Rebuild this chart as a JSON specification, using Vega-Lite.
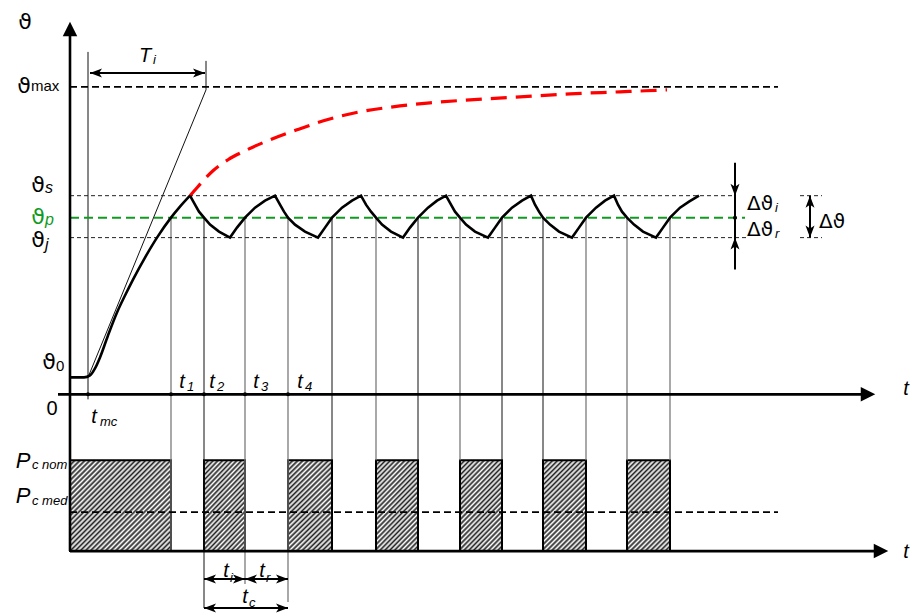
{
  "$schema": "https://vega.github.io/schema/vega-lite/v6.json",
  "width": 910,
  "height": 613,
  "autosize": {"type": "fit", "contains": "padding"},
  "padding": 0,
  "background": "white",
  "config": {"view": {"stroke": null}},
  "datasets": {
    "wideBar": [{"t": 0, "t2": 101, "v": -66, "v2": -157}],
    "bars": [
      {"t": 134, "t2": 175, "v": -66, "v2": -157},
      {"t": 218, "t2": 262, "v": -66, "v2": -157},
      {"t": 306, "t2": 348, "v": -66, "v2": -157},
      {"t": 390, "t2": 432, "v": -66, "v2": -157},
      {"t": 473, "t2": 516, "v": -66, "v2": -157},
      {"t": 557, "t2": 600, "v": -66, "v2": -157}
    ],
    "grayLines": [
      {"t": 101, "v": 177, "t2": 101, "v2": -157},
      {"t": 175, "v": 177, "t2": 175, "v2": -190},
      {"t": 218, "v": 177, "t2": 218, "v2": -208},
      {"t": 306, "v": 177, "t2": 306, "v2": -66},
      {"t": 390, "v": 177, "t2": 390, "v2": -66},
      {"t": 516, "v": 177, "t2": 516, "v2": -66},
      {"t": 557, "v": 177, "t2": 557, "v2": -66},
      {"t": 600, "v": 177, "t2": 600, "v2": -66}
    ],
    "blackLines": [
      {"t": 134, "v": 177, "t2": 134, "v2": -214},
      {"t": 262, "v": 177, "t2": 262, "v2": -66},
      {"t": 348, "v": 177, "t2": 348, "v2": -66},
      {"t": 432, "v": 177, "t2": 432, "v2": -66},
      {"t": 473, "v": 177, "t2": 473, "v2": -66},
      {"t": 18, "v": 343, "t2": 18, "v2": -5},
      {"t": 136, "v": 334, "t2": 136, "v2": 305},
      {"t": 18, "v": 17, "t2": 136, "v2": 305}
    ],
    "levelsMain": [
      {"t": 0, "v": 308, "t2": 708, "v2": 308},
      {"t": 0, "v": -118, "t2": 708, "v2": -118}
    ],
    "levelsThin": [
      {"t": 0, "v": 199, "t2": 663, "v2": 199},
      {"t": 0, "v": 157, "t2": 677, "v2": 157},
      {"t": 730, "v": 199, "t2": 752, "v2": 199},
      {"t": 730, "v": 157, "t2": 752, "v2": 157}
    ],
    "levelGreen": [{"t": 0, "v": 177, "t2": 675, "v2": 177}],
    "red": [
      {"t": 120, "v": 199}, {"t": 127, "v": 207}, {"t": 143, "v": 224}, {"t": 158, "v": 235},
      {"t": 173, "v": 243}, {"t": 200, "v": 255}, {"t": 227, "v": 265}, {"t": 257, "v": 275},
      {"t": 290, "v": 283}, {"t": 323, "v": 288}, {"t": 360, "v": 292}, {"t": 400, "v": 295},
      {"t": 450, "v": 298}, {"t": 500, "v": 301}, {"t": 550, "v": 303}, {"t": 597, "v": 305}
    ],
    "heat": [
      {"t": 0, "v": 17}, {"t": 14, "v": 17}, {"t": 20, "v": 19}, {"t": 25, "v": 26}, {"t": 30, "v": 37},
      {"t": 38, "v": 59}, {"t": 47, "v": 82}, {"t": 55, "v": 99}, {"t": 63, "v": 115}, {"t": 75, "v": 137},
      {"t": 87, "v": 157}, {"t": 101, "v": 177}, {"t": 110, "v": 188}, {"t": 120, "v": 199}
    ],
    "cycles": [
      {"t": 120, "v": 199},
      {"t": 125, "v": 190}, {"t": 129, "v": 183}, {"t": 134, "v": 177}, {"t": 140, "v": 170}, {"t": 149, "v": 163},
      {"t": 160, "v": 157}, {"t": 167, "v": 167}, {"t": 175, "v": 177}, {"t": 185, "v": 187}, {"t": 195, "v": 194}, {"t": 205, "v": 199},
      {"t": 210, "v": 190}, {"t": 214, "v": 183}, {"t": 218, "v": 177}, {"t": 225, "v": 170}, {"t": 235, "v": 163},
      {"t": 248, "v": 157}, {"t": 255, "v": 167}, {"t": 262, "v": 177}, {"t": 272, "v": 187}, {"t": 282, "v": 194}, {"t": 291, "v": 199},
      {"t": 296, "v": 190}, {"t": 301, "v": 183}, {"t": 306, "v": 177}, {"t": 312, "v": 170}, {"t": 321, "v": 163},
      {"t": 333, "v": 157}, {"t": 340, "v": 167}, {"t": 348, "v": 177}, {"t": 358, "v": 187}, {"t": 367, "v": 194}, {"t": 376, "v": 199},
      {"t": 381, "v": 190}, {"t": 385, "v": 183}, {"t": 390, "v": 177}, {"t": 396, "v": 170}, {"t": 405, "v": 163},
      {"t": 418, "v": 157}, {"t": 425, "v": 167}, {"t": 432, "v": 177}, {"t": 442, "v": 187}, {"t": 452, "v": 194}, {"t": 461, "v": 199},
      {"t": 465, "v": 190}, {"t": 469, "v": 183}, {"t": 473, "v": 177}, {"t": 480, "v": 170}, {"t": 489, "v": 163},
      {"t": 502, "v": 157}, {"t": 509, "v": 167}, {"t": 516, "v": 177}, {"t": 526, "v": 187}, {"t": 535, "v": 194}, {"t": 544, "v": 199},
      {"t": 548, "v": 190}, {"t": 552, "v": 183}, {"t": 557, "v": 177}, {"t": 564, "v": 170}, {"t": 573, "v": 163},
      {"t": 586, "v": 157}, {"t": 593, "v": 167}, {"t": 600, "v": 177}, {"t": 610, "v": 187}, {"t": 619, "v": 193}, {"t": 629, "v": 199}
    ],
    "axes": [
      {"t": 0, "v": 360, "t2": 0, "v2": -157},
      {"t": -12, "v": 0, "t2": 795, "v2": 0},
      {"t": 0, "v": -157, "t2": 808, "v2": -157}
    ],
    "dims": [
      {"t": 20, "v": 322, "t2": 135, "v2": 322},
      {"t": 665, "v": 232, "t2": 665, "v2": 125},
      {"t": 740, "v": 199, "t2": 740, "v2": 157},
      {"t": 134, "v": -185, "t2": 175, "v2": -185},
      {"t": 175, "v": -185, "t2": 218, "v2": -185},
      {"t": 134, "v": -214, "t2": 218, "v2": -214}
    ],
    "arrowsBig": [
      {"t": 0, "v": 366, "dir": "U"},
      {"t": 798, "v": 0, "dir": "R"},
      {"t": 811, "v": -157, "dir": "R"}
    ],
    "arrowsSmall": [
      {"t": 26, "v": 322, "dir": "l"}, {"t": 129, "v": 322, "dir": "r"},
      {"t": 665, "v": 205, "dir": "d"}, {"t": 665, "v": 151, "dir": "u"},
      {"t": 740, "v": 193, "dir": "u"}, {"t": 740, "v": 163, "dir": "d"},
      {"t": 140, "v": -185, "dir": "l"}, {"t": 169, "v": -185, "dir": "r"},
      {"t": 181, "v": -185, "dir": "l"}, {"t": 212, "v": -185, "dir": "r"},
      {"t": 140, "v": -214, "dir": "l"}, {"t": 212, "v": -214, "dir": "r"}
    ],
    "dots": [
      {"t": 18, "v": 0}, {"t": 101, "v": 0}, {"t": 134, "v": 0}, {"t": 175, "v": 0}, {"t": 218, "v": 0}, {"t": 665, "v": 177}
    ],
    "thetaLabels": [
      {"t": -45, "v": 373, "s": "ϑ"}, {"t": -46, "v": 309, "s": "ϑ"}, {"t": -32, "v": 210, "s": "ϑ"},
      {"t": -32, "v": 155, "s": "ϑ"}, {"t": -21, "v": 32, "s": "ϑ"}
    ],
    "thetaGreen": [{"t": -32, "v": 178, "s": "ϑ"}],
    "zeroLabel": [{"t": -18, "v": -15, "s": "0"}],
    "tLabels": [
      {"t": 836, "v": 5, "s": "t"}, {"t": 836, "v": -158, "s": "t"}, {"t": 75, "v": 339, "s": "T"},
      {"t": 24, "v": -23, "s": "t"}, {"t": 112, "v": 12, "s": "t"}, {"t": 142, "v": 12, "s": "t"},
      {"t": 186, "v": 12, "s": "t"}, {"t": 230, "v": 12, "s": "t"}, {"t": 156, "v": -177, "s": "t"},
      {"t": 192, "v": -177, "s": "t"}, {"t": 175, "v": -203, "s": "t"}
    ],
    "pLabels": [{"t": -47, "v": -67, "s": "P"}, {"t": -47, "v": -102, "s": "P"}],
    "deltaLabels": [
      {"t": 677, "v": 191, "s": "Δϑ"}, {"t": 677, "v": 165, "s": "Δϑ"}, {"t": 749, "v": 173, "s": "Δϑ"}
    ],
    "subsItalic": [
      {"t": 83, "v": 335, "s": "i"}, {"t": 30, "v": -28, "s": "mc"},
      {"t": 117, "v": 7, "s": "1"}, {"t": 147, "v": 7, "s": "2"}, {"t": 191, "v": 7, "s": "3"}, {"t": 235, "v": 7, "s": "4"},
      {"t": 160, "v": -184, "s": "i"}, {"t": 196, "v": -184, "s": "r"}, {"t": 179, "v": -209, "s": "c"},
      {"t": 705, "v": 187, "s": "i"}, {"t": 705, "v": 161, "s": "r"},
      {"t": -38, "v": -71, "s": "c nom"}, {"t": -38, "v": -107, "s": "c med"}
    ],
    "subsTheta": [{"t": -25, "v": 207, "s": "s"}, {"t": -25, "v": 150, "s": "j"}],
    "subsGreen": [{"t": -25, "v": 175, "s": "p"}],
    "subsUpright": [{"t": -39, "v": 309, "s": "max"}, {"t": -14, "v": 28, "s": "0"}]
  },
  "encoding": {
    "x": {"field": "t", "type": "quantitative", "scale": {"domain": [-70, 840], "nice": false, "zero": false}, "axis": null},
    "y": {"field": "v", "type": "quantitative", "scale": {"domain": [-218, 395], "nice": false, "zero": false}, "axis": null}
  },
  "layer": [
    {
      "data": {"name": "wideBar"},
      "mark": {"type": "rect", "stroke": "#000", "strokeWidth": 2,
        "fill": {"gradient": "linear", "x1": 0, "y1": 0, "x2": 1.049, "y2": 0.945, "stops": [
          {"offset": 0, "color": "#222"}, {"offset": 0.013, "color": "#fff"}, {"offset": 0.026, "color": "#222"}, {"offset": 0.039, "color": "#fff"},
          {"offset": 0.053, "color": "#222"}, {"offset": 0.066, "color": "#fff"}, {"offset": 0.079, "color": "#222"}, {"offset": 0.092, "color": "#fff"},
          {"offset": 0.105, "color": "#222"}, {"offset": 0.118, "color": "#fff"}, {"offset": 0.132, "color": "#222"}, {"offset": 0.145, "color": "#fff"},
          {"offset": 0.158, "color": "#222"}, {"offset": 0.171, "color": "#fff"}, {"offset": 0.184, "color": "#222"}, {"offset": 0.197, "color": "#fff"},
          {"offset": 0.211, "color": "#222"}, {"offset": 0.224, "color": "#fff"}, {"offset": 0.237, "color": "#222"}, {"offset": 0.25, "color": "#fff"},
          {"offset": 0.263, "color": "#222"}, {"offset": 0.276, "color": "#fff"}, {"offset": 0.289, "color": "#222"}, {"offset": 0.303, "color": "#fff"},
          {"offset": 0.316, "color": "#222"}, {"offset": 0.329, "color": "#fff"}, {"offset": 0.342, "color": "#222"}, {"offset": 0.355, "color": "#fff"},
          {"offset": 0.368, "color": "#222"}, {"offset": 0.382, "color": "#fff"}, {"offset": 0.395, "color": "#222"}, {"offset": 0.408, "color": "#fff"},
          {"offset": 0.421, "color": "#222"}, {"offset": 0.434, "color": "#fff"}, {"offset": 0.447, "color": "#222"}, {"offset": 0.461, "color": "#fff"},
          {"offset": 0.474, "color": "#222"}, {"offset": 0.487, "color": "#fff"}, {"offset": 0.5, "color": "#222"}, {"offset": 0.513, "color": "#fff"},
          {"offset": 0.526, "color": "#222"}, {"offset": 0.539, "color": "#fff"}, {"offset": 0.553, "color": "#222"}, {"offset": 0.566, "color": "#fff"},
          {"offset": 0.579, "color": "#222"}, {"offset": 0.592, "color": "#fff"}, {"offset": 0.605, "color": "#222"}, {"offset": 0.618, "color": "#fff"},
          {"offset": 0.632, "color": "#222"}, {"offset": 0.645, "color": "#fff"}, {"offset": 0.658, "color": "#222"}, {"offset": 0.671, "color": "#fff"},
          {"offset": 0.684, "color": "#222"}, {"offset": 0.697, "color": "#fff"}, {"offset": 0.711, "color": "#222"}, {"offset": 0.724, "color": "#fff"},
          {"offset": 0.737, "color": "#222"}, {"offset": 0.75, "color": "#fff"}, {"offset": 0.763, "color": "#222"}, {"offset": 0.776, "color": "#fff"},
          {"offset": 0.789, "color": "#222"}, {"offset": 0.803, "color": "#fff"}, {"offset": 0.816, "color": "#222"}, {"offset": 0.829, "color": "#fff"},
          {"offset": 0.842, "color": "#222"}, {"offset": 0.855, "color": "#fff"}, {"offset": 0.868, "color": "#222"}, {"offset": 0.882, "color": "#fff"},
          {"offset": 0.895, "color": "#222"}, {"offset": 0.908, "color": "#fff"}, {"offset": 0.921, "color": "#222"}, {"offset": 0.934, "color": "#fff"},
          {"offset": 0.947, "color": "#222"}, {"offset": 0.961, "color": "#fff"}, {"offset": 0.974, "color": "#222"}, {"offset": 0.987, "color": "#fff"},
          {"offset": 1, "color": "#222"}
        ]}},
      "encoding": {"x2": {"field": "t2"}, "y2": {"field": "v2"}}
    },
    {
      "data": {"name": "bars"},
      "mark": {"type": "rect", "stroke": "#000", "strokeWidth": 2,
        "fill": {"gradient": "linear", "x1": 0, "y1": 0, "x2": 0.569, "y2": 1.204, "stops": [
          {"offset": 0, "color": "#222"}, {"offset": 0.019, "color": "#fff"}, {"offset": 0.037, "color": "#222"}, {"offset": 0.056, "color": "#fff"},
          {"offset": 0.074, "color": "#222"}, {"offset": 0.093, "color": "#fff"}, {"offset": 0.111, "color": "#222"}, {"offset": 0.13, "color": "#fff"},
          {"offset": 0.148, "color": "#222"}, {"offset": 0.167, "color": "#fff"}, {"offset": 0.185, "color": "#222"}, {"offset": 0.204, "color": "#fff"},
          {"offset": 0.222, "color": "#222"}, {"offset": 0.241, "color": "#fff"}, {"offset": 0.259, "color": "#222"}, {"offset": 0.278, "color": "#fff"},
          {"offset": 0.296, "color": "#222"}, {"offset": 0.315, "color": "#fff"}, {"offset": 0.333, "color": "#222"}, {"offset": 0.352, "color": "#fff"},
          {"offset": 0.37, "color": "#222"}, {"offset": 0.389, "color": "#fff"}, {"offset": 0.407, "color": "#222"}, {"offset": 0.426, "color": "#fff"},
          {"offset": 0.444, "color": "#222"}, {"offset": 0.463, "color": "#fff"}, {"offset": 0.481, "color": "#222"}, {"offset": 0.5, "color": "#fff"},
          {"offset": 0.519, "color": "#222"}, {"offset": 0.537, "color": "#fff"}, {"offset": 0.556, "color": "#222"}, {"offset": 0.574, "color": "#fff"},
          {"offset": 0.593, "color": "#222"}, {"offset": 0.611, "color": "#fff"}, {"offset": 0.63, "color": "#222"}, {"offset": 0.648, "color": "#fff"},
          {"offset": 0.667, "color": "#222"}, {"offset": 0.685, "color": "#fff"}, {"offset": 0.704, "color": "#222"}, {"offset": 0.722, "color": "#fff"},
          {"offset": 0.741, "color": "#222"}, {"offset": 0.759, "color": "#fff"}, {"offset": 0.778, "color": "#222"}, {"offset": 0.796, "color": "#fff"},
          {"offset": 0.815, "color": "#222"}, {"offset": 0.833, "color": "#fff"}, {"offset": 0.852, "color": "#222"}, {"offset": 0.87, "color": "#fff"},
          {"offset": 0.889, "color": "#222"}, {"offset": 0.907, "color": "#fff"}, {"offset": 0.926, "color": "#222"}, {"offset": 0.944, "color": "#fff"},
          {"offset": 0.963, "color": "#222"}, {"offset": 0.981, "color": "#fff"}, {"offset": 1, "color": "#222"}
        ]}},
      "encoding": {"x2": {"field": "t2"}, "y2": {"field": "v2"}}
    },
    {
      "data": {"name": "grayLines"},
      "mark": {"type": "rule", "color": "#7a7a7a", "strokeWidth": 1.3},
      "encoding": {"x2": {"field": "t2"}, "y2": {"field": "v2"}}
    },
    {
      "data": {"name": "blackLines"},
      "mark": {"type": "rule", "color": "#111", "strokeWidth": 1},
      "encoding": {"x2": {"field": "t2"}, "y2": {"field": "v2"}}
    },
    {
      "data": {"name": "levelsMain"},
      "mark": {"type": "rule", "color": "#000", "strokeWidth": 1.6, "strokeDash": [7, 4]},
      "encoding": {"x2": {"field": "t2"}, "y2": {"field": "v2"}}
    },
    {
      "data": {"name": "levelsThin"},
      "mark": {"type": "rule", "color": "#222", "strokeWidth": 1, "strokeDash": [4, 3]},
      "encoding": {"x2": {"field": "t2"}, "y2": {"field": "v2"}}
    },
    {
      "data": {"name": "levelGreen"},
      "mark": {"type": "rule", "color": "#109a22", "strokeWidth": 2, "strokeDash": [9, 5]},
      "encoding": {"x2": {"field": "t2"}, "y2": {"field": "v2"}}
    },
    {
      "data": {"name": "red"},
      "mark": {"type": "line", "color": "#ff0000", "strokeWidth": 3.2, "strokeDash": [16, 9], "interpolate": "monotone"},
      "encoding": {}
    },
    {
      "data": {"name": "heat"},
      "mark": {"type": "line", "color": "#000", "strokeWidth": 2.6, "interpolate": "monotone"},
      "encoding": {}
    },
    {
      "data": {"name": "cycles"},
      "mark": {"type": "line", "color": "#000", "strokeWidth": 2.6, "strokeJoin": "miter"},
      "encoding": {}
    },
    {
      "data": {"name": "axes"},
      "mark": {"type": "rule", "color": "#000", "strokeWidth": 2.6},
      "encoding": {"x2": {"field": "t2"}, "y2": {"field": "v2"}}
    },
    {
      "data": {"name": "dims"},
      "mark": {"type": "rule", "color": "#000", "strokeWidth": 2},
      "encoding": {"x2": {"field": "t2"}, "y2": {"field": "v2"}}
    },
    {
      "data": {"name": "arrowsBig"},
      "mark": {"type": "point", "filled": true, "opacity": 1, "color": "#000", "size": 210, "strokeWidth": 0},
      "encoding": {
        "shape": {"field": "dir", "type": "nominal", "legend": null,
          "scale": {"domain": ["U", "R", "u", "d", "l", "r"],
            "range": ["M0,-1L-1,1L1,1Z", "M1,0L-1,-1L-1,1Z", "M0,-1L-0.75,1L0,0.5L0.75,1Z", "M0,1L-0.75,-1L0,-0.5L0.75,-1Z", "M-1,0L1,-0.75L0.5,0L1,0.75Z", "M1,0L-1,-0.75L-0.5,0L-1,0.75Z"]}}
      }
    },
    {
      "data": {"name": "arrowsSmall"},
      "mark": {"type": "point", "filled": true, "opacity": 1, "color": "#000", "size": 144, "strokeWidth": 0},
      "encoding": {
        "shape": {"field": "dir", "type": "nominal", "legend": null,
          "scale": {"domain": ["U", "R", "u", "d", "l", "r"],
            "range": ["M0,-1L-1,1L1,1Z", "M1,0L-1,-1L-1,1Z", "M0,-1L-0.75,1L0,0.5L0.75,1Z", "M0,1L-0.75,-1L0,-0.5L0.75,-1Z", "M-1,0L1,-0.75L0.5,0L1,0.75Z", "M1,0L-1,-0.75L-0.5,0L-1,0.75Z"]}}
      }
    },
    {
      "data": {"name": "dots"},
      "mark": {"type": "point", "shape": "circle", "filled": true, "opacity": 1, "color": "#000", "size": 16},
      "encoding": {}
    },
    {
      "data": {"name": "thetaLabels"},
      "mark": {"type": "text", "font": "DejaVu Sans", "fontSize": 22, "align": "center", "baseline": "middle", "color": "#000"},
      "encoding": {"text": {"field": "s"}}
    },
    {
      "data": {"name": "thetaGreen"},
      "mark": {"type": "text", "font": "DejaVu Sans", "fontSize": 22, "align": "center", "baseline": "middle", "color": "#109a22"},
      "encoding": {"text": {"field": "s"}}
    },
    {
      "data": {"name": "zeroLabel"},
      "mark": {"type": "text", "font": "Liberation Sans", "fontSize": 20, "align": "center", "baseline": "middle", "color": "#000"},
      "encoding": {"text": {"field": "s"}}
    },
    {
      "data": {"name": "tLabels"},
      "mark": {"type": "text", "font": "Liberation Sans", "fontStyle": "italic", "fontSize": 20, "align": "center", "baseline": "middle", "color": "#000"},
      "encoding": {"text": {"field": "s"}}
    },
    {
      "data": {"name": "pLabels"},
      "mark": {"type": "text", "font": "Liberation Sans", "fontStyle": "italic", "fontSize": 22, "align": "center", "baseline": "middle", "color": "#000"},
      "encoding": {"text": {"field": "s"}}
    },
    {
      "data": {"name": "deltaLabels"},
      "mark": {"type": "text", "font": "DejaVu Sans", "fontSize": 20, "align": "left", "baseline": "middle", "color": "#000"},
      "encoding": {"text": {"field": "s"}}
    },
    {
      "data": {"name": "subsItalic"},
      "mark": {"type": "text", "font": "Liberation Sans", "fontStyle": "italic", "fontSize": 13, "align": "left", "baseline": "middle", "color": "#000"},
      "encoding": {"text": {"field": "s"}}
    },
    {
      "data": {"name": "subsTheta"},
      "mark": {"type": "text", "font": "Liberation Sans", "fontStyle": "italic", "fontSize": 16, "align": "left", "baseline": "middle", "color": "#000"},
      "encoding": {"text": {"field": "s"}}
    },
    {
      "data": {"name": "subsGreen"},
      "mark": {"type": "text", "font": "Liberation Sans", "fontStyle": "italic", "fontSize": 16, "align": "left", "baseline": "middle", "color": "#109a22"},
      "encoding": {"text": {"field": "s"}}
    },
    {
      "data": {"name": "subsUpright"},
      "mark": {"type": "text", "font": "Liberation Sans", "fontSize": 15, "align": "left", "baseline": "middle", "color": "#000"},
      "encoding": {"text": {"field": "s"}}
    }
  ]
}
